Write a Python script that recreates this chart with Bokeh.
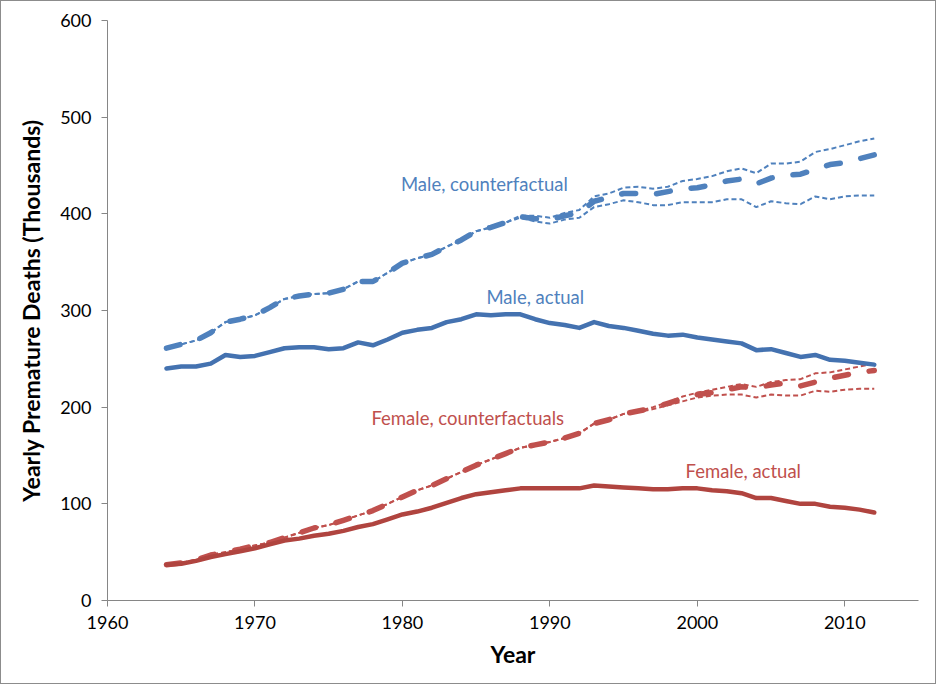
from bokeh.plotting import figure
from bokeh.models import Range1d, FixedTicker, Label
from bokeh.embed import file_html
from bokeh.resources import INLINE

years = list(range(1964, 2013))

male_actual = [240, 242, 242, 245, 254, 252, 253, 257, 261, 262, 262, 260, 261, 267, 264, 270,
               277, 280, 282, 288, 291, 296, 295, 296, 296, 291, 287, 285, 282, 288, 284, 282,
               279, 276, 274, 275, 272, 270, 268, 266, 259, 260, 256, 252, 254, 249, 248, 246, 244]

male_cf = [261, 265, 269, 277, 288, 291, 295, 303, 312, 315, 317, 318, 322, 330, 330, 339,
           349, 354, 358, 366, 373, 382, 386, 391, 397, 395, 394, 398, 401, 413, 417, 421,
           421, 420, 423, 426, 427, 430, 434, 436, 431, 437, 440, 441, 446, 451, 453, 457, 461]

male_cf_high = [261, 265, 269, 277, 288, 291, 295, 303, 312, 315, 317, 318, 322, 330, 330, 339,
                349, 354, 358, 366, 373, 382, 386, 391, 398, 398, 396, 401, 404, 418, 421, 427,
                428, 426, 428, 434, 436, 439, 444, 447, 442, 452, 452, 454, 464, 467, 471, 475, 478]

male_cf_low = [261, 265, 269, 277, 288, 291, 295, 303, 312, 315, 317, 318, 322, 330, 330, 339,
               349, 354, 358, 366, 373, 382, 386, 391, 396, 392, 390, 394, 396, 407, 410, 414,
               412, 409, 409, 412, 412, 412, 415, 415, 407, 413, 411, 410, 418, 415, 418, 419, 419]

female_actual = [37, 38, 41, 45, 48, 51, 54, 58, 62, 64, 67, 69, 72, 76, 79, 84,
                 89, 92, 96, 101, 106, 110, 112, 114, 116, 116, 116, 116, 116, 119, 118, 117,
                 116, 115, 115, 116, 116, 114, 113, 111, 106, 106, 103, 100, 100, 97, 96, 94, 91]

female_cf = [37, 39, 42, 47, 50, 53, 57, 60, 65, 70, 75, 78, 83, 88, 93, 100,
             107, 114, 119, 126, 133, 140, 146, 152, 158, 161, 164, 168, 173, 183, 187, 193,
             196, 199, 204, 209, 213, 215, 218, 221, 220, 223, 225, 222, 226, 230, 233, 236, 238]

female_cf_high = [37, 39, 42, 47, 50, 53, 57, 60, 65, 70, 75, 78, 83, 88, 93, 100,
                  107, 114, 119, 126, 133, 140, 146, 152, 158, 161, 164, 168, 173, 183, 187, 193,
                  196, 200, 205, 211, 215, 218, 221, 224, 221, 226, 228, 229, 235, 236, 239, 242, 245]

female_cf_low = [37, 39, 42, 47, 50, 53, 57, 60, 65, 70, 75, 78, 83, 88, 93, 100,
                 107, 114, 119, 126, 133, 140, 146, 152, 158, 161, 164, 168, 173, 183, 187, 193,
                 195, 198, 202, 206, 210, 212, 213, 213, 210, 213, 212, 212, 217, 216, 218, 219, 219]

x_ticks = [1960, 1970, 1980, 1990, 2000, 2010]
y_ticks = [0, 100, 200, 300, 400, 500, 600]

FONT = "Lato"
BLUE = "#4F81BD"
BLUE_DARK = "#4472B0"
RED = "#C0504D"
RED_DARK = "#B0443F"

p = figure(width=936, height=684, output_backend="svg", toolbar_location=None,
           x_range=Range1d(1960, 2015), y_range=Range1d(0, 600),
           min_border_left=106, min_border_right=19, min_border_top=19, min_border_bottom=85)
p.styles = {"border": "1px solid #8c8c8c", "box-sizing": "border-box"}
p.outline_line_color = None
p.background_fill_color = "white"
p.border_fill_color = "white"
p.grid.visible = False

p.xaxis.ticker = FixedTicker(ticks=x_ticks)
p.yaxis.ticker = FixedTicker(ticks=y_ticks)
for ax in (p.xaxis[0], p.yaxis[0]):
    ax.axis_line_color = "#868686"
    ax.axis_line_width = 1
    ax.major_tick_line_color = "#868686"
    ax.major_tick_in = 0
    ax.major_tick_out = 6
    ax.minor_tick_line_color = None
    ax.major_label_text_font = FONT
    ax.major_label_text_font_size = "18px"
    ax.major_label_text_color = "#000000"
    ax.axis_label_text_font = FONT
    ax.axis_label_text_font_size = "23px"
    ax.axis_label_text_font_style = "bold"
    ax.axis_label_text_color = "#000000"

p.xaxis.axis_label = "Year"
p.yaxis.axis_label = "Yearly Premature Deaths (Thousands)"
p.xaxis.major_label_standoff = 9
p.yaxis.major_label_standoff = 10
p.xaxis.axis_label_standoff = 8
p.yaxis.axis_label_standoff = 12

# bounds (thin dashed)
for ys, c in ((male_cf_high, BLUE), (male_cf_low, BLUE), (female_cf_high, RED), (female_cf_low, RED)):
    p.line(years, ys, line_color=c, line_width=2, line_dash="5 3")

# central counterfactual (thick dashed)
p.line(years, male_cf, line_color=BLUE, line_width=5.5, line_dash="14 21",
       line_cap="round", line_join="round")
p.line(years, female_cf, line_color=RED, line_width=5.5, line_dash="14 21",
       line_cap="round", line_join="round")

# actual (solid)
p.line(years, male_actual, line_color=BLUE_DARK, line_width=4.5, line_cap="round", line_join="round")
p.line(years, female_actual, line_color=RED_DARK, line_width=4.5, line_cap="round", line_join="round")

labels = [
    ("Male, counterfactual", 1979.9, 431, BLUE),
    ("Male, actual", 1985.7, 314, BLUE),
    ("Female, counterfactuals", 1977.9, 189, RED),
    ("Female, actual", 1999.2, 134, RED),
]
for txt, lx, ly, c in labels:
    p.add_layout(Label(x=lx, y=ly, text=txt, text_color=c, text_font=FONT,
                       text_font_size="18.5px", text_baseline="middle", text_align="left"))

open("out.html", "w").write(file_html(p, INLINE))
